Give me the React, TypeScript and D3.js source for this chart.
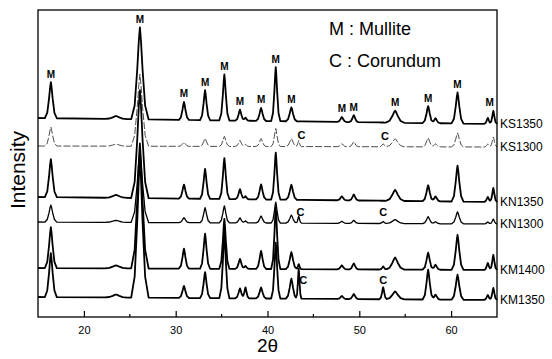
import React, { useRef, useEffect } from "react";
import * as d3 from "d3";

// peak positions (2theta) shared by all samples, with their base half-widths
const PEAK_POS = [16.4, 23.5, 26.1, 30.9, 33.2, 35.3, 37.0, 37.6, 39.3, 40.9, 42.6, 43.4, 48.1, 49.4, 52.6, 53.9, 57.5, 58.3, 60.7, 64.0, 64.6];
const PEAK_WIDTH = [0.65, 1.2, 0.95, 0.55, 0.55, 0.55, 0.5, 0.4, 0.55, 0.5, 0.6, 0.3, 0.5, 0.5, 0.4, 1.0, 0.6, 0.5, 0.65, 0.4, 0.4];

// peak heights (arbitrary intensity units)
const KS1350 = [36, 3, 92, 18, 30, 46, 11, 3, 13, 54, 14, 0, 5, 7, 0, 12, 17, 5, 31, 6, 13];
const KS1300 = [19, 2, 72, 4, 8, 10, 6, 2, 8, 18, 8, 6, 3, 5, 3, 8, 9, 3, 14, 3, 10];
const KN1350 = [38, 3, 108, 14, 30, 41, 10, 3, 15, 47, 15, 0, 4, 6, 0, 11, 16, 5, 36, 5, 14];
const KN1300 = [17, 2, 72, 5, 15, 17, 5, 2, 7, 21, 8, 7, 2, 3, 2, 4, 7, 2, 12, 2, 5];
const KM1400 = [41, 3, 125, 20, 35, 50, 10, 3, 18, 62, 17, 5, 4, 6, 3, 12, 17, 5, 35, 7, 15];
const KM1350 = [44, 3, 140, 12, 26, 66, 10, 11, 11, 56, 20, 30, 3, 5, 12, 8, 30, 5, 25, 5, 12];

const SAMPLES = ["KS1350", "KS1300", "KN1350", "KN1300", "KM1400", "KM1350"];
const SAMPLE_PEAKS = [KS1350, KS1300, KN1350, KN1300, KM1400, KM1350];
// stacking offset of each pattern at 2theta = 15 and 65
const BASE_START = [199, 171, 120, 95, 49, 20];
const BASE_END = [193, 170, 115, 93, 47, 17];

const M_PEAKS = [16.4, 26.1, 30.9, 33.2, 35.3, 37.0, 39.3, 40.9, 42.6, 48.1, 49.4, 53.9, 57.5, 60.7, 64.2];
const C_SAMPLE = [1, 1, 3, 3, 5, 5];
const C_POS = [43.7, 52.8, 43.6, 52.6, 43.9, 52.6];

const X_TICKS = [20, 30, 40, 50, 60];
const X_MINOR = [25, 35, 45, 55];

// peak shape stencil
const SHAPE_X = [-1, -0.6, -0.3, -0.12, 0, 0.12, 0.3, 0.6, 1];
const SHAPE_Y = [0, 0.15, 0.55, 0.86, 1, 0.86, 0.55, 0.15, 0];

const FONT = "'Liberation Sans', Arial, Helvetica, sans-serif";

function buildProfile(heights: number[], b0: number, b1: number) {
  const base = d3.scaleLinear().domain([15, 65]).range([b0, b1]);
  const shapes = PEAK_POS.map((p, i) =>
    d3
      .scaleLinear()
      .domain(SHAPE_X.map((s) => p + s * PEAK_WIDTH[i]))
      .range(SHAPE_Y.map((f) => f * heights[i]))
      .clamp(true)
  );
  const xs = new Set<number>([15, 65]);
  PEAK_POS.forEach((p, i) =>
    SHAPE_X.forEach((s) => {
      const v = +(p + s * PEAK_WIDTH[i]).toFixed(4);
      if (v >= 15 && v <= 65) xs.add(v);
    })
  );
  return Array.from(xs)
    .sort((a, b) => a - b)
    .map((x) => [x, base(x) + d3.sum(shapes, (sh) => sh(x))] as [number, number]);
}

const App = () => {
  const svgRef = useRef<SVGSVGElement>(null);

  useEffect(() => {
    if (!svgRef.current) return;
    const svg = d3.select(svgRef.current);
    svg.selectAll("*").remove();

    const left = 38, right = 497, top = 10, bottom = 317;
    const x = d3.scaleLinear().domain([15, 65]).range([left, right]);
    const y = d3.scaleLinear().domain([0, 307]).range([bottom, top]);

    const line = d3
      .line<[number, number]>()
      .x((d) => x(d[0]))
      .y((d) => y(d[1]));

    const profiles = SAMPLES.map((s, i) => buildProfile(SAMPLE_PEAKS[i], BASE_START[i], BASE_END[i]));

    const g = svg.append("g");
    profiles.forEach((pts, i) => {
      const thin = i === 1;
      g.append("path")
        .attr("d", line(pts))
        .attr("fill", "none")
        .attr("stroke", thin ? "#3a3a3a" : "#000")
        .attr("stroke-width", thin ? 0.9 : i === 3 ? 1.3 : 1.8)
        .attr("stroke-dasharray", thin ? "7 2" : null)
        .attr("stroke-linejoin", "round");

      svg
        .append("text")
        .attr("x", right + 3)
        .attr("y", y(BASE_END[i]))
        .attr("dy", "0.35em")
        .attr("fill", "#000")
        .attr("font-family", FONT)
        .attr("font-size", 12)
        .text(SAMPLES[i]);
    });

    // frame
    svg
      .append("rect")
      .attr("x", left)
      .attr("y", top)
      .attr("width", right - left)
      .attr("height", bottom - top)
      .attr("fill", "none")
      .attr("stroke", "#000")
      .attr("stroke-width", 1.3);

    // bottom axis, ticks pointing inward
    const xAxis = svg
      .append("g")
      .attr("transform", `translate(0,${bottom})`)
      .call(d3.axisBottom(x).tickValues(X_TICKS).tickSizeInner(-6).tickSizeOuter(0).tickPadding(9));
    xAxis.select(".domain").remove();
    xAxis.selectAll("line").attr("stroke-width", 1.2);
    xAxis.selectAll("text").attr("font-family", FONT).attr("font-size", 11);

    svg
      .append("g")
      .selectAll("line")
      .data(X_MINOR)
      .enter()
      .append("line")
      .attr("x1", (d) => x(d))
      .attr("x2", (d) => x(d))
      .attr("y1", bottom)
      .attr("y2", bottom - 3)
      .attr("stroke", "#000")
      .attr("stroke-width", 1.2);

    // axis titles
    svg
      .append("text")
      .attr("x", (left + right) / 2)
      .attr("y", 352)
      .attr("text-anchor", "middle")
      .attr("font-family", FONT)
      .attr("font-size", 19)
      .text("2θ");

    svg
      .append("text")
      .attr("transform", `translate(25,170) rotate(-90)`)
      .attr("text-anchor", "middle")
      .attr("font-family", FONT)
      .attr("font-size", 21)
      .text("Intensity");

    // legend
    svg
      .append("text")
      .attr("x", 329)
      .attr("y", 35)
      .attr("font-family", FONT)
      .attr("font-size", 18)
      .text("M : Mullite");
    svg
      .append("text")
      .attr("x", 329)
      .attr("y", 67)
      .attr("font-family", FONT)
      .attr("font-size", 18)
      .text("C : Corundum");

    // mullite peak marks above the top pattern
    const topProfile = profiles[0];
    M_PEAKS.forEach((p) => {
      const peak = d3.max(topProfile.filter((d) => Math.abs(d[0] - p) <= 0.4), (d) => d[1]) ?? 0;
      svg
        .append("text")
        .attr("x", x(p))
        .attr("y", y(peak) - 8)
        .attr("dy", "0.35em")
        .attr("text-anchor", "middle")
        .attr("fill", "#000")
        .attr("font-family", FONT)
        .attr("font-weight", "bold")
        .attr("font-size", 10)
        .text("M");
    });

    // corundum marks
    C_POS.forEach((p, i) => {
      const s = C_SAMPLE[i];
      const base = d3.scaleLinear().domain([15, 65]).range([BASE_START[s], BASE_END[s]]);
      const lift = s === 5 ? 19 : 11;
      svg
        .append("text")
        .attr("x", x(p))
        .attr("y", y(base(p)) - lift)
        .attr("dy", "0.35em")
        .attr("text-anchor", "middle")
        .attr("fill", "#000")
        .attr("font-family", FONT)
        .attr("font-weight", "bold")
        .attr("font-size", 11)
        .text("C");
    });
  }, []);

  return (
    <svg
      ref={svgRef}
      width={552}
      height={359}
      style={{ position: "absolute", left: 0, top: 0, background: "#fff" }}
    />
  );
};

export default App;
